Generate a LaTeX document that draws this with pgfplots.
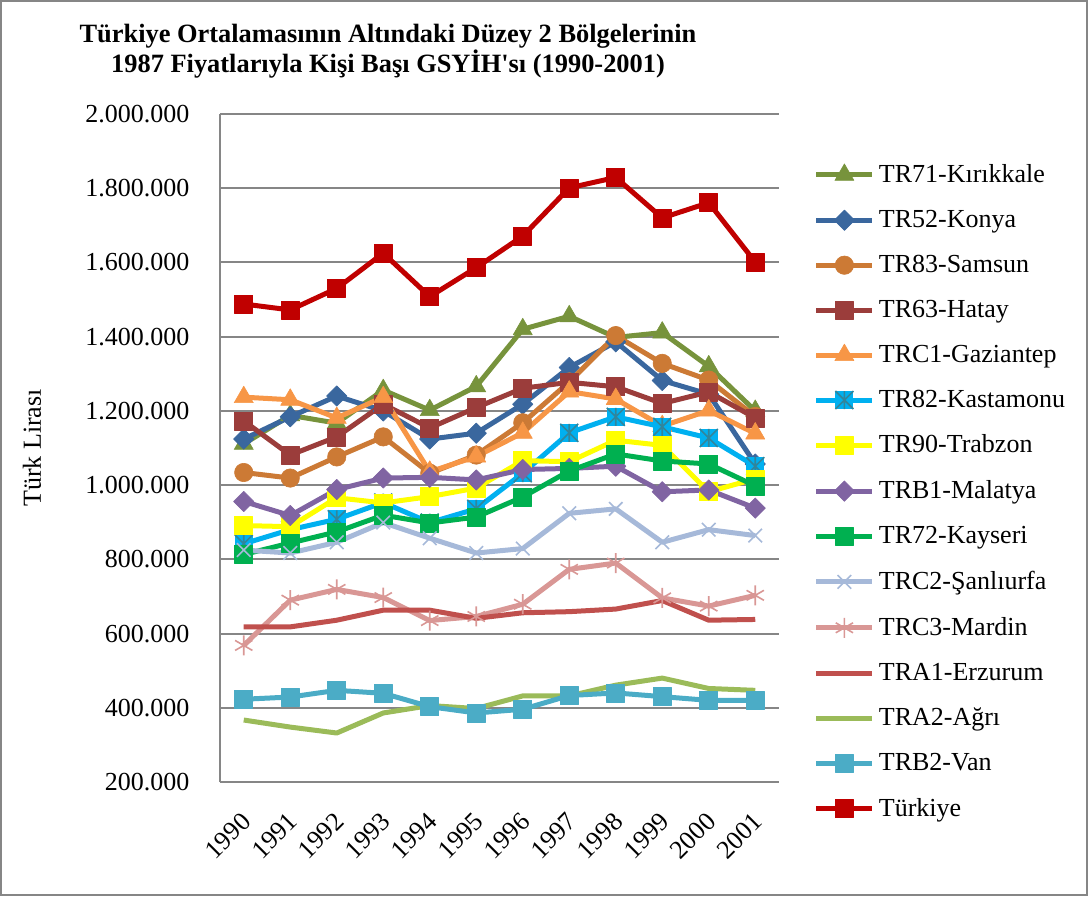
\documentclass[border=0pt]{standalone}
\usepackage{fontspec}
\setmainfont{Liberation Serif}
\usepackage{pgfplots}
\usepackage{pgfplotstable}
\pgfplotsset{compat=1.18}

\definecolor{cTRseventyone}{HTML}{77933C}
\definecolor{cKonya}{HTML}{3A679E}
\definecolor{cSamsun}{HTML}{CC7A35}
\definecolor{cHatay}{HTML}{9B3D3B}
\definecolor{cGaz}{HTML}{F79646}
\definecolor{cKast}{HTML}{00B0F0}
\definecolor{astcol}{HTML}{31859C}
\definecolor{cTrab}{HTML}{FFFF00}
\definecolor{cMal}{HTML}{8064A2}
\definecolor{cKay}{HTML}{00B050}
\definecolor{cSanl}{HTML}{A6B9D9}
\definecolor{cMard}{HTML}{D99795}
\definecolor{cErz}{HTML}{C0504D}
\definecolor{cAgri}{HTML}{9BBB59}
\definecolor{cVan}{HTML}{4BACC6}
\definecolor{cTur}{HTML}{C00000}
\definecolor{gridgray}{HTML}{868686}

\pgfdeclareplotmark{sqast}{%
  \pgfpathrectangle{\pgfqpoint{-\pgfplotmarksize}{-\pgfplotmarksize}}{\pgfqpoint{2\pgfplotmarksize}{2\pgfplotmarksize}}%
  \pgfusepathqfill
  \pgfsetlinewidth{0.8pt}%
  \pgfsetstrokecolor{astcol}%
  \pgfpathmoveto{\pgfqpoint{0pt}{-\pgfplotmarksize}}\pgfpathlineto{\pgfqpoint{0pt}{\pgfplotmarksize}}%
  \pgfpathmoveto{\pgfqpoint{-\pgfplotmarksize}{-\pgfplotmarksize}}\pgfpathlineto{\pgfqpoint{\pgfplotmarksize}{\pgfplotmarksize}}%
  \pgfpathmoveto{\pgfqpoint{-\pgfplotmarksize}{\pgfplotmarksize}}\pgfpathlineto{\pgfqpoint{\pgfplotmarksize}{-\pgfplotmarksize}}%
  \pgfusepathqstroke
}

\pgfplotstableread{
x TRseventyone Konya Samsun Hatay Gaz Kast Trab Mal Kay Sanl Mard Erz Agri Van Tur
0 1111000 1124000 1034000 1173000 1237000 842000 891000 956000 813000 825000 568000 618000 367000 423000 1488000
1 1188000 1184000 1019000 1081000 1230000 880000 888000 918000 844000 817000 690000 618000 348000 429000 1472000
2 1167000 1240000 1076000 1130000 1181000 908000 966000 988000 874000 846000 719000 636000 332000 447000 1530000
3 1256000 1200000 1130000 1218000 1237000 953000 952000 1019000 919000 899000 697000 663000 386000 439000 1625000
4 1202000 1124000 1032000 1154000 1036000 899000 969000 1021000 898000 857000 635000 663000 406000 403000 1508000
5 1266000 1140000 1081000 1209000 1077000 936000 992000 1014000 914000 817000 646000 641000 398000 386000 1586000
6 1420000 1218000 1168000 1261000 1141000 1032000 1066000 1042000 968000 829000 679000 656000 432000 396000 1671000
7 1455000 1317000 1278000 1277000 1252000 1141000 1063000 1045000 1038000 924000 773000 659000 432000 433000 1801000
8 1398000 1386000 1403000 1265000 1232000 1184000 1121000 1051000 1084000 936000 790000 666000 461000 440000 1829000
9 1411000 1282000 1328000 1220000 1159000 1157000 1107000 982000 1065000 846000 696000 689000 480000 430000 1720000
10 1320000 1245000 1283000 1251000 1201000 1127000 982000 987000 1057000 880000 674000 636000 452000 420000 1761000
11 1200000 1057000 1185000 1181000 1139000 1051000 1017000 938000 998000 864000 703000 638000 447000 420000 1601000
}\datatable

\begin{document}
\begin{tikzpicture}
\useasboundingbox (0,0) rectangle (544pt,448pt);
\draw[gridgray, line width=0.8pt] (0.5pt,0.5pt) rectangle (543.5pt,447.5pt);
\begin{axis}[
  at={(110.25pt,57pt)}, anchor=south west,
  scale only axis, width=279pt, height=334pt,
  xmin=-0.5, xmax=11.5, ymin=200000, ymax=2000000,
  xtick={0,...,11},
  xticklabels={1990,1991,1992,1993,1994,1995,1996,1997,1998,1999,2000,2001},
  ytick={200000,400000,...,2000000},
  scaled y ticks=false,
  /pgf/number format/fixed,
  /pgf/number format/precision=0,
  /pgf/number format/1000 sep={.},
  /pgf/number format/assume math mode=true,
  axis x line*=bottom, axis y line*=left,
  x axis line style={draw=none},
  y axis line style={gridgray, line width=1pt},
  ymajorgrids, grid style={gridgray, line width=1pt},
  major tick length=0pt,
  tick label style={font=\fontsize{13}{15.6}\selectfont},
  yticklabel style={xshift=-12pt},
  xticklabel style={xshift=-1.8pt, yshift=-9.6pt, rotate=45, anchor=north east},
  ylabel={Türk Lirası},
  ylabel style={font=\fontsize{13}{15.6}\selectfont, at={(axis description cs:-0.338,0.5)}, anchor=center},
  every axis plot/.append style={line width=2.5pt, line join=round},
  legend style={draw=none, fill=none, at={(1,1)}, anchor=north west, xshift=17.5pt, yshift=-23pt,
     font=\fontsize{13}{15.6}\selectfont, row sep=8.35pt, inner sep=0pt},
  legend cell align=left,
  legend image code/.code={\draw[mark repeat=2,mark phase=2,#1] plot coordinates {(0pt,0pt) (14pt,0pt) (28pt,0pt)};},
  clip=false,
]
\addplot[color=cTRseventyone, mark=triangle*, mark size=5.5pt, mark options={line width=0.3pt}] table[x=x,y=TRseventyone]{\datatable};
\addlegendentry{TR71-Kırıkkale}
\addplot[color=cKonya, mark=square*, mark size=3.6pt, mark options={rotate=45, line width=0.3pt}] table[x=x,y=Konya]{\datatable};
\addlegendentry{TR52-Konya}
\addplot[color=cSamsun, mark=*, mark size=4.6pt, mark options={line width=0.3pt}] table[x=x,y=Samsun]{\datatable};
\addlegendentry{TR83-Samsun}
\addplot[color=cHatay, mark=square*, mark size=4.5pt, mark options={line width=0.3pt}] table[x=x,y=Hatay]{\datatable};
\addlegendentry{TR63-Hatay}
\addplot[color=cGaz, mark=triangle*, mark size=5.5pt, mark options={line width=0.3pt}] table[x=x,y=Gaz]{\datatable};
\addlegendentry{TRC1-Gaziantep}
\addplot[color=cKast, mark=sqast, mark size=4.5pt] table[x=x,y=Kast]{\datatable};
\addlegendentry{TR82-Kastamonu}
\addplot[color=cTrab, mark=square*, mark size=4.5pt, mark options={line width=0.3pt}] table[x=x,y=Trab]{\datatable};
\addlegendentry{TR90-Trabzon}
\addplot[color=cMal, mark=square*, mark size=3.6pt, mark options={rotate=45, line width=0.3pt}] table[x=x,y=Mal]{\datatable};
\addlegendentry{TRB1-Malatya}
\addplot[color=cKay, mark=square*, mark size=4.5pt, mark options={line width=0.3pt}] table[x=x,y=Kay]{\datatable};
\addlegendentry{TR72-Kayseri}
\addplot[color=cSanl, mark=x, mark size=4.8pt, mark options={line width=0.8pt}] table[x=x,y=Sanl]{\datatable};
\addlegendentry{TRC2-Şanlıurfa}
\addplot[color=cMard, mark=asterisk, mark size=5pt, mark options={line width=0.8pt}] table[x=x,y=Mard]{\datatable};
\addlegendentry{TRC3-Mardin}
\addplot[color=cErz, no marks] table[x=x,y=Erz]{\datatable};
\addlegendentry{TRA1-Erzurum}
\addplot[color=cAgri, no marks] table[x=x,y=Agri]{\datatable};
\addlegendentry{TRA2-Ağrı}
\addplot[color=cVan, mark=square*, mark size=4.5pt, mark options={line width=0.3pt}] table[x=x,y=Van]{\datatable};
\addlegendentry{TRB2-Van}
\addplot[color=cTur, mark=square*, mark size=4.5pt, mark options={line width=0.3pt}] table[x=x,y=Tur]{\datatable};
\addlegendentry{Türkiye}
\end{axis}
\node[font=\bfseries\fontsize{13.2}{15}\selectfont, align=center] at (194pt,422.5pt)
  {Türkiye Ortalamasının Altındaki Düzey 2 Bölgelerinin\\1987 Fiyatlarıyla Kişi Başı GSYİH\textquotesingle sı (1990-2001)};
\end{tikzpicture}
\end{document}
